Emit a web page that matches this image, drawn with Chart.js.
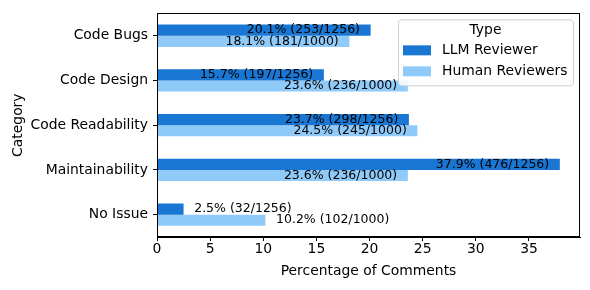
<!DOCTYPE html>
<html>
<head>
<meta charset="utf-8">
<script src="https://cdn.jsdelivr.net/npm/chart.js@4/dist/chart.umd.min.js"></script>
<style>
    html, body { margin: 0; padding: 0; background: #fff; }
    #wrap { width: 590px; height: 290px; position: relative; }
</style>
</head>
<body>
<div id="wrap"><canvas id="review_chart"></canvas></div>
<script>
const categories = ['Code Bugs', 'Code Design', 'Code Readability', 'Maintainability', 'No Issue'];
const llm_pct = [20.1, 15.7, 23.7, 37.9, 2.5];
const llm_counts = [253, 197, 298, 476, 32];
const llm_total = 1256;
const human_pct = [18.1, 23.6, 24.5, 23.6, 10.2];
const human_counts = [181, 236, 245, 236, 102];
const human_total = 1000;
const x_ticks = [0, 5, 10, 15, 20, 25, 30, 35];

const palette = {
    llm_blue: '#1976d2',
    human_blue: '#90caf9',
    text: '#000000',
};

const font_family = '"DejaVu Sans", sans-serif';

// value labels next to / inside each bar
const bar_label_plugin = {
    id: 'bar_labels',
    afterDatasetsDraw(chart) {
        const ctx = chart.ctx;
        const x_scale = chart.scales.x;
        ctx.save();
        ctx.font = '12.5px ' + font_family;
        ctx.fillStyle = palette.text;
        ctx.textBaseline = 'middle';
        chart.data.datasets.forEach((ds, di) => {
            const meta = chart.getDatasetMeta(di);
            meta.data.forEach((bar, i) => {
                const v = ds.data[i];
                const txt = v.toFixed(1) + '% (' + ds.counts[i] + '/' + ds.total + ')';
                if (v > 12) {
                    ctx.textAlign = 'right';
                    ctx.fillText(txt, x_scale.getPixelForValue(v - 1), bar.y);
                } else {
                    ctx.textAlign = 'left';
                    ctx.fillText(txt, x_scale.getPixelForValue(v + 1), bar.y);
                }
            });
        });
        ctx.restore();
    },
};

// full frame round the plot plus a matplotlib-like legend box
const frame_legend_plugin = {
    id: 'frame_legend',
    afterDraw(chart) {
        const ctx = chart.ctx;
        const a = chart.chartArea;
        ctx.save();
        ctx.strokeStyle = '#000';
        ctx.lineWidth = 1;
        ctx.strokeRect(Math.round(a.left) + 0.5, Math.round(a.top) + 0.5,
            Math.round(a.right - a.left) - 1, Math.round(a.bottom - a.top) - 1);

        const bx = a.right - 182;
        const by = a.top + 6;
        const bw = 175;
        const bh = 66;
        ctx.fillStyle = 'rgba(255,255,255,0.85)';
        ctx.strokeStyle = '#d0d0d0';
        ctx.beginPath();
        ctx.roundRect(bx + 0.5, by + 0.5, bw, bh, 3);
        ctx.fill();
        ctx.stroke();

        ctx.fillStyle = palette.text;
        ctx.font = '13.9px ' + font_family;
        ctx.textBaseline = 'middle';
        ctx.textAlign = 'center';
        ctx.fillText('Type', bx + bw / 2, by + 11);
        ctx.textAlign = 'left';
        chart.data.datasets.forEach((ds, di) => {
            const cy = by + 31 + di * 21;
            ctx.fillStyle = ds.backgroundColor;
            ctx.fillRect(bx + 5, cy - 5, 28, 10);
            ctx.fillStyle = palette.text;
            ctx.fillText(ds.label, bx + 44, cy);
        });
        ctx.restore();
    },
};

new Chart(document.getElementById('review_chart').getContext('2d'), {
    type: 'bar',
    data: {
        labels: categories,
        datasets: [
            {
                label: 'LLM Reviewer',
                data: llm_pct,
                counts: llm_counts,
                total: llm_total,
                backgroundColor: palette.llm_blue,
                categoryPercentage: 0.5,
                barPercentage: 1.0,
            },
            {
                label: 'Human Reviewers',
                data: human_pct,
                counts: human_counts,
                total: human_total,
                backgroundColor: palette.human_blue,
                categoryPercentage: 0.5,
                barPercentage: 1.0,
            },
        ],
    },
    options: {
        indexAxis: 'y',
        responsive: true,
        maintainAspectRatio: false,
        animation: false,
        devicePixelRatio: 1,
        layout: { padding: { left: 0, right: 10, top: 10, bottom: 10 } },
        plugins: {
            legend: { display: false },
            tooltip: { enabled: false },
        },
        scales: {
            x: {
                min: 0,
                max: 39.8,
                afterBuildTicks(scale) {
                    scale.ticks = x_ticks.map((v) => ({ value: v }));
                },
                afterFit(scale) {
                    scale.height = 43;
                },
                ticks: {
                    color: palette.text,
                    font: { family: font_family, size: 13.9 },
                    padding: 0,
                    maxRotation: 0,
                },
                grid: {
                    drawOnChartArea: false,
                    color: '#000',
                    tickLength: 4,
                },
                border: { color: '#000' },
                title: {
                    display: true,
                    text: 'Percentage of Comments',
                    color: palette.text,
                    font: { family: font_family, size: 13.9 },
                    padding: { top: 0, bottom: 0 },
                },
            },
            y: {
                afterFit(scale) {
                    scale.width = 157;
                },
                ticks: {
                    color: palette.text,
                    font: { family: font_family, size: 13.9 },
                    padding: 5,
                },
                grid: {
                    offset: false,
                    drawOnChartArea: false,
                    color: '#000',
                    tickLength: 4,
                },
                border: { color: '#000' },
                title: {
                    display: true,
                    text: 'Category',
                    color: palette.text,
                    font: { family: font_family, size: 13.9 },
                    padding: { top: 10, bottom: 0 },
                },
            },
        },
    },
    plugins: [bar_label_plugin, frame_legend_plugin],
});
</script>
</body>
</html>
